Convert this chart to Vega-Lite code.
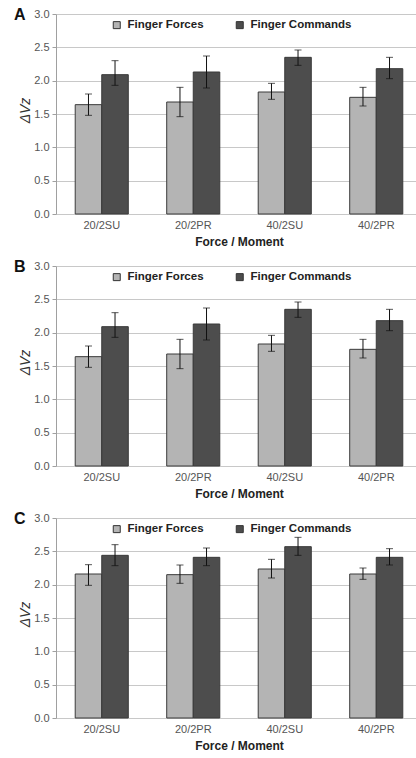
{
  "$schema": "https://vega.github.io/schema/vega-lite/v6.json",
  "padding": {"left": 14, "top": 7, "right": 0, "bottom": 0},
  "background": "white",
  "config": {
    "font": "Liberation Sans",
    "view": {"stroke": null},
    "concat": {"spacing": 12},
    "axis": {
      "labelFont": "Liberation Sans",
      "labelFontSize": 11,
      "labelColor": "#555555",
      "domainColor": "#a0a0a0",
      "tickColor": "#a0a0a0",
      "gridColor": "#c8c8c8",
      "titleFont": "Liberation Sans"
    },
    "title": {"font": "Liberation Sans", "fontSize": 16, "fontWeight": "bold", "color": "#111111"}
  },
  "datasets": {
    "d": [
      {"panel": "A", "cond": "20/2SU", "series": "Finger Forces", "mean": 1.64, "lo": 1.48, "hi": 1.80},
      {"panel": "A", "cond": "20/2SU", "series": "Finger Commands", "mean": 2.09, "lo": 1.93, "hi": 2.30},
      {"panel": "A", "cond": "20/2PR", "series": "Finger Forces", "mean": 1.68, "lo": 1.46, "hi": 1.90},
      {"panel": "A", "cond": "20/2PR", "series": "Finger Commands", "mean": 2.13, "lo": 1.89, "hi": 2.37},
      {"panel": "A", "cond": "40/2SU", "series": "Finger Forces", "mean": 1.83, "lo": 1.72, "hi": 1.96},
      {"panel": "A", "cond": "40/2SU", "series": "Finger Commands", "mean": 2.35, "lo": 2.23, "hi": 2.46},
      {"panel": "A", "cond": "40/2PR", "series": "Finger Forces", "mean": 1.75, "lo": 1.62, "hi": 1.90},
      {"panel": "A", "cond": "40/2PR", "series": "Finger Commands", "mean": 2.18, "lo": 2.03, "hi": 2.35},
      {"panel": "B", "cond": "20/2SU", "series": "Finger Forces", "mean": 1.64, "lo": 1.48, "hi": 1.80},
      {"panel": "B", "cond": "20/2SU", "series": "Finger Commands", "mean": 2.09, "lo": 1.93, "hi": 2.30},
      {"panel": "B", "cond": "20/2PR", "series": "Finger Forces", "mean": 1.68, "lo": 1.46, "hi": 1.90},
      {"panel": "B", "cond": "20/2PR", "series": "Finger Commands", "mean": 2.13, "lo": 1.89, "hi": 2.37},
      {"panel": "B", "cond": "40/2SU", "series": "Finger Forces", "mean": 1.83, "lo": 1.72, "hi": 1.96},
      {"panel": "B", "cond": "40/2SU", "series": "Finger Commands", "mean": 2.35, "lo": 2.23, "hi": 2.46},
      {"panel": "B", "cond": "40/2PR", "series": "Finger Forces", "mean": 1.75, "lo": 1.62, "hi": 1.90},
      {"panel": "B", "cond": "40/2PR", "series": "Finger Commands", "mean": 2.18, "lo": 2.03, "hi": 2.35},
      {"panel": "C", "cond": "20/2SU", "series": "Finger Forces", "mean": 2.16, "lo": 1.99, "hi": 2.30},
      {"panel": "C", "cond": "20/2SU", "series": "Finger Commands", "mean": 2.44, "lo": 2.285, "hi": 2.60},
      {"panel": "C", "cond": "20/2PR", "series": "Finger Forces", "mean": 2.15, "lo": 2.02, "hi": 2.295},
      {"panel": "C", "cond": "20/2PR", "series": "Finger Commands", "mean": 2.41, "lo": 2.285, "hi": 2.55},
      {"panel": "C", "cond": "40/2SU", "series": "Finger Forces", "mean": 2.235, "lo": 2.10, "hi": 2.38},
      {"panel": "C", "cond": "40/2SU", "series": "Finger Commands", "mean": 2.57, "lo": 2.44, "hi": 2.71},
      {"panel": "C", "cond": "40/2PR", "series": "Finger Forces", "mean": 2.16, "lo": 2.08, "hi": 2.25},
      {"panel": "C", "cond": "40/2PR", "series": "Finger Commands", "mean": 2.41, "lo": 2.295, "hi": 2.54}
    ]
  },
  "resolve": {"scale": {"color": "independent"}, "legend": {"color": "independent"}},
  "vconcat": [
    {
      "title": {"text": "A", "anchor": "start", "frame": "group", "dx": -42, "offset": -31, "baseline": "bottom"},
      "width": 360, "height": 200,
      "data": {"name": "d"},
      "transform": [{"filter": "datum.panel === 'A'"}],
      "encoding": {
        "x": {"field": "cond", "type": "nominal", "sort": ["20/2SU", "20/2PR", "40/2SU", "40/2PR"],
          "scale": {"paddingInner": 0.42, "paddingOuter": 0.21, "range": [0, 366]},
          "axis": {"title": "Force / Moment", "labelAngle": 0, "ticks": false, "domain": false, "labelPadding": 5, "titleFontSize": 12, "titleFontWeight": "bold", "titleColor": "#222222", "titlePadding": 6}},
        "xOffset": {"field": "series", "type": "nominal", "sort": ["Finger Forces", "Finger Commands"], "scale": {"paddingInner": 0, "paddingOuter": 0}}
      },
      "layer": [
        {
          "mark": {"type": "bar", "stroke": "#3a3a3a", "strokeWidth": 1},
          "encoding": {
            "y": {"field": "mean", "type": "quantitative", "scale": {"domain": [0, 3]},
              "axis": {"values": [0, 0.5, 1, 1.5, 2, 2.5, 3], "format": ".1f", "labelOverlap": false, "tickSize": 4, "labelPadding": 3, "title": "ΔVz", "titleFontSize": 14, "titleFontWeight": "normal", "titleFontStyle": "italic", "titleColor": "#333333", "titlePadding": 1, "titleY": 96}},
            "color": {"field": "series", "type": "nominal", "sort": ["Finger Forces", "Finger Commands"],
              "scale": {"domain": ["Finger Forces", "Finger Commands"], "range": ["#b4b4b4", "#4d4d4d"]},
              "legend": {"title": null, "orient": "none", "direction": "horizontal", "legendX": 55, "legendY": 5, "symbolType": "square", "symbolSize": 49, "symbolStrokeColor": "#333333", "symbolStrokeWidth": 1, "labelFontSize": 11.5, "labelFontWeight": "bold", "labelColor": "#222222", "columnPadding": 30, "labelOffset": 5}}
          }
        },
        {
          "mark": {"type": "rule", "color": "#111111", "strokeWidth": 1},
          "encoding": {"y": {"field": "lo", "type": "quantitative", "axis": {"values": [0, 0.5, 1, 1.5, 2, 2.5, 3], "format": ".1f", "labelOverlap": false, "tickSize": 4, "labelPadding": 3, "title": "ΔVz", "titleFontSize": 14, "titleFontWeight": "normal", "titleFontStyle": "italic", "titleColor": "#333333", "titlePadding": 1, "titleY": 96}}, "y2": {"field": "hi"}}
        },
        {
          "mark": {"type": "tick", "color": "#111111", "size": 7, "thickness": 1, "orient": "horizontal"},
          "encoding": {"y": {"field": "lo", "type": "quantitative", "axis": {"values": [0, 0.5, 1, 1.5, 2, 2.5, 3], "format": ".1f", "labelOverlap": false, "tickSize": 4, "labelPadding": 3, "title": "ΔVz", "titleFontSize": 14, "titleFontWeight": "normal", "titleFontStyle": "italic", "titleColor": "#333333", "titlePadding": 1, "titleY": 96}}}
        },
        {
          "mark": {"type": "tick", "color": "#111111", "size": 7, "thickness": 1, "orient": "horizontal"},
          "encoding": {"y": {"field": "hi", "type": "quantitative", "axis": {"values": [0, 0.5, 1, 1.5, 2, 2.5, 3], "format": ".1f", "labelOverlap": false, "tickSize": 4, "labelPadding": 3, "title": "ΔVz", "titleFontSize": 14, "titleFontWeight": "normal", "titleFontStyle": "italic", "titleColor": "#333333", "titlePadding": 1, "titleY": 96}}}
        }
      ]
    },
    {
      "title": {"text": "B", "anchor": "start", "frame": "group", "dx": -42, "offset": -31, "baseline": "bottom"},
      "width": 360, "height": 200,
      "data": {"name": "d"},
      "transform": [{"filter": "datum.panel === 'B'"}],
      "encoding": {
        "x": {"field": "cond", "type": "nominal", "sort": ["20/2SU", "20/2PR", "40/2SU", "40/2PR"],
          "scale": {"paddingInner": 0.42, "paddingOuter": 0.21, "range": [0, 366]},
          "axis": {"title": "Force / Moment", "labelAngle": 0, "ticks": false, "domain": false, "labelPadding": 5, "titleFontSize": 12, "titleFontWeight": "bold", "titleColor": "#222222", "titlePadding": 6}},
        "xOffset": {"field": "series", "type": "nominal", "sort": ["Finger Forces", "Finger Commands"], "scale": {"paddingInner": 0, "paddingOuter": 0}}
      },
      "layer": [
        {
          "mark": {"type": "bar", "stroke": "#3a3a3a", "strokeWidth": 1},
          "encoding": {
            "y": {"field": "mean", "type": "quantitative", "scale": {"domain": [0, 3]},
              "axis": {"values": [0, 0.5, 1, 1.5, 2, 2.5, 3], "format": ".1f", "labelOverlap": false, "tickSize": 4, "labelPadding": 3, "title": "ΔVz", "titleFontSize": 14, "titleFontWeight": "normal", "titleFontStyle": "italic", "titleColor": "#333333", "titlePadding": 1, "titleY": 96}},
            "color": {"field": "series", "type": "nominal", "sort": ["Finger Forces", "Finger Commands"],
              "scale": {"domain": ["Finger Forces", "Finger Commands"], "range": ["#b4b4b4", "#4d4d4d"]},
              "legend": {"title": null, "orient": "none", "direction": "horizontal", "legendX": 55, "legendY": 5, "symbolType": "square", "symbolSize": 49, "symbolStrokeColor": "#333333", "symbolStrokeWidth": 1, "labelFontSize": 11.5, "labelFontWeight": "bold", "labelColor": "#222222", "columnPadding": 30, "labelOffset": 5}}
          }
        },
        {
          "mark": {"type": "rule", "color": "#111111", "strokeWidth": 1},
          "encoding": {"y": {"field": "lo", "type": "quantitative", "axis": {"values": [0, 0.5, 1, 1.5, 2, 2.5, 3], "format": ".1f", "labelOverlap": false, "tickSize": 4, "labelPadding": 3, "title": "ΔVz", "titleFontSize": 14, "titleFontWeight": "normal", "titleFontStyle": "italic", "titleColor": "#333333", "titlePadding": 1, "titleY": 96}}, "y2": {"field": "hi"}}
        },
        {
          "mark": {"type": "tick", "color": "#111111", "size": 7, "thickness": 1, "orient": "horizontal"},
          "encoding": {"y": {"field": "lo", "type": "quantitative", "axis": {"values": [0, 0.5, 1, 1.5, 2, 2.5, 3], "format": ".1f", "labelOverlap": false, "tickSize": 4, "labelPadding": 3, "title": "ΔVz", "titleFontSize": 14, "titleFontWeight": "normal", "titleFontStyle": "italic", "titleColor": "#333333", "titlePadding": 1, "titleY": 96}}}
        },
        {
          "mark": {"type": "tick", "color": "#111111", "size": 7, "thickness": 1, "orient": "horizontal"},
          "encoding": {"y": {"field": "hi", "type": "quantitative", "axis": {"values": [0, 0.5, 1, 1.5, 2, 2.5, 3], "format": ".1f", "labelOverlap": false, "tickSize": 4, "labelPadding": 3, "title": "ΔVz", "titleFontSize": 14, "titleFontWeight": "normal", "titleFontStyle": "italic", "titleColor": "#333333", "titlePadding": 1, "titleY": 96}}}
        }
      ]
    },
    {
      "title": {"text": "C", "anchor": "start", "frame": "group", "dx": -42, "offset": -31, "baseline": "bottom"},
      "width": 360, "height": 200,
      "data": {"name": "d"},
      "transform": [{"filter": "datum.panel === 'C'"}],
      "encoding": {
        "x": {"field": "cond", "type": "nominal", "sort": ["20/2SU", "20/2PR", "40/2SU", "40/2PR"],
          "scale": {"paddingInner": 0.42, "paddingOuter": 0.21, "range": [0, 366]},
          "axis": {"title": "Force / Moment", "labelAngle": 0, "ticks": false, "domain": false, "labelPadding": 5, "titleFontSize": 12, "titleFontWeight": "bold", "titleColor": "#222222", "titlePadding": 6}},
        "xOffset": {"field": "series", "type": "nominal", "sort": ["Finger Forces", "Finger Commands"], "scale": {"paddingInner": 0, "paddingOuter": 0}}
      },
      "layer": [
        {
          "mark": {"type": "bar", "stroke": "#3a3a3a", "strokeWidth": 1},
          "encoding": {
            "y": {"field": "mean", "type": "quantitative", "scale": {"domain": [0, 3]},
              "axis": {"values": [0, 0.5, 1, 1.5, 2, 2.5, 3], "format": ".1f", "labelOverlap": false, "tickSize": 4, "labelPadding": 3, "title": "ΔVz", "titleFontSize": 14, "titleFontWeight": "normal", "titleFontStyle": "italic", "titleColor": "#333333", "titlePadding": 1, "titleY": 96}},
            "color": {"field": "series", "type": "nominal", "sort": ["Finger Forces", "Finger Commands"],
              "scale": {"domain": ["Finger Forces", "Finger Commands"], "range": ["#b4b4b4", "#4d4d4d"]},
              "legend": {"title": null, "orient": "none", "direction": "horizontal", "legendX": 55, "legendY": 5, "symbolType": "square", "symbolSize": 49, "symbolStrokeColor": "#333333", "symbolStrokeWidth": 1, "labelFontSize": 11.5, "labelFontWeight": "bold", "labelColor": "#222222", "columnPadding": 30, "labelOffset": 5}}
          }
        },
        {
          "mark": {"type": "rule", "color": "#111111", "strokeWidth": 1},
          "encoding": {"y": {"field": "lo", "type": "quantitative", "axis": {"values": [0, 0.5, 1, 1.5, 2, 2.5, 3], "format": ".1f", "labelOverlap": false, "tickSize": 4, "labelPadding": 3, "title": "ΔVz", "titleFontSize": 14, "titleFontWeight": "normal", "titleFontStyle": "italic", "titleColor": "#333333", "titlePadding": 1, "titleY": 96}}, "y2": {"field": "hi"}}
        },
        {
          "mark": {"type": "tick", "color": "#111111", "size": 7, "thickness": 1, "orient": "horizontal"},
          "encoding": {"y": {"field": "lo", "type": "quantitative", "axis": {"values": [0, 0.5, 1, 1.5, 2, 2.5, 3], "format": ".1f", "labelOverlap": false, "tickSize": 4, "labelPadding": 3, "title": "ΔVz", "titleFontSize": 14, "titleFontWeight": "normal", "titleFontStyle": "italic", "titleColor": "#333333", "titlePadding": 1, "titleY": 96}}}
        },
        {
          "mark": {"type": "tick", "color": "#111111", "size": 7, "thickness": 1, "orient": "horizontal"},
          "encoding": {"y": {"field": "hi", "type": "quantitative", "axis": {"values": [0, 0.5, 1, 1.5, 2, 2.5, 3], "format": ".1f", "labelOverlap": false, "tickSize": 4, "labelPadding": 3, "title": "ΔVz", "titleFontSize": 14, "titleFontWeight": "normal", "titleFontStyle": "italic", "titleColor": "#333333", "titlePadding": 1, "titleY": 96}}}
        }
      ]
    }
  ]
}
